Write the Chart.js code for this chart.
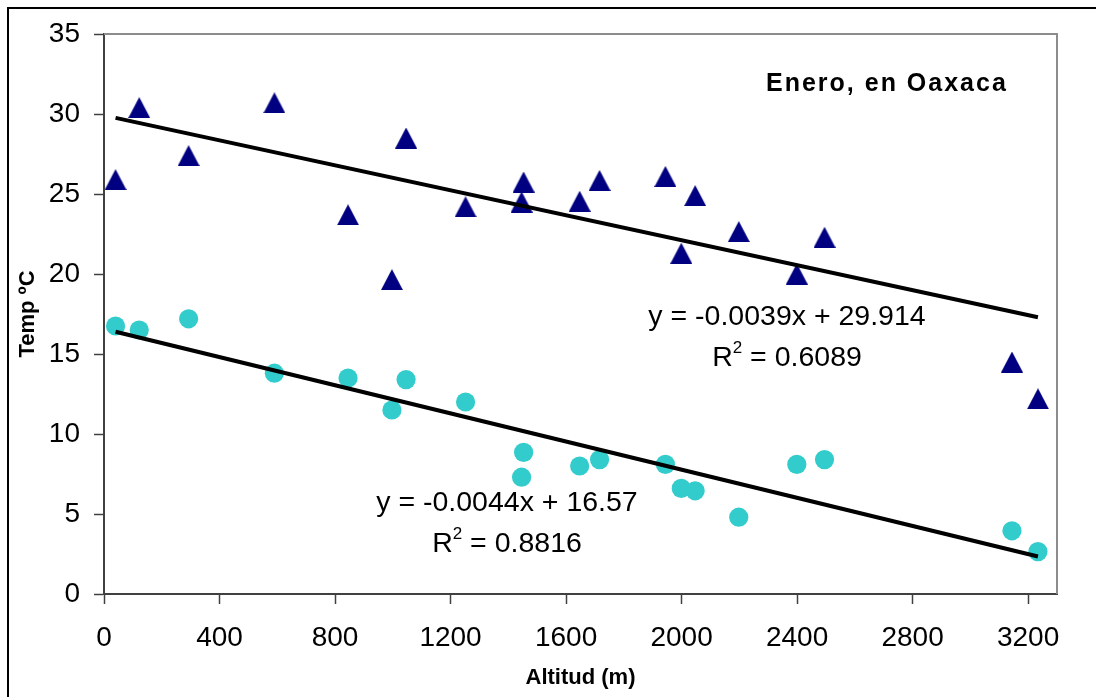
<!DOCTYPE html>
<html>
<head>
<meta charset="utf-8">
<title>Enero, en Oaxaca</title>
<script src="https://cdn.jsdelivr.net/npm/chart.js@4/dist/chart.umd.min.js"></script>
<style>
  html, body { margin: 0; padding: 0; background: #fff; }
  canvas { display: block; }
</style>
</head>
<body>
<canvas id="grafica" width="1096" height="697"></canvas>
<script>
// Altitud de cada estación (m) y temperatura de enero (ºC)
const altitud = [40, 122, 293, 590, 845, 997, 1046, 1252, 1453, 1446, 1647, 1716, 1944, 1999, 2047, 2198, 2399, 2495, 3144, 3234];
const tempAlta = [25.9, 30.4, 27.4, 30.7, 23.7, 19.65, 28.5, 24.2, 25.75, 24.5, 24.55, 25.85, 26.1, 21.3, 24.9, 22.65, 20.0, 22.3, 14.5, 12.2];
const tempBaja = [16.75, 16.5, 17.2, 13.8, 13.5, 11.5, 13.4, 12.0, 8.85, 7.3, 8.0, 8.4, 8.1, 6.6, 6.45, 4.8, 8.1, 8.4, 3.95, 2.65];

// Ajustes lineales: y = pendiente * x + intercepto
const pendiente = [-0.0039, -0.0044];
const intercepto = [29.914, 16.57];
const r2 = [0.6089, 0.8816];

// Marcas de los ejes
const ticksX = [0, 400, 800, 1200, 1600, 2000, 2400, 2800, 3200];
const ticksY = [0, 5, 10, 15, 20, 25, 30, 35];
const maxX = 3300;

const FUENTE = "'Liberation Sans', Arial, sans-serif";

function puntos(ys) {
  return altitud.map((x, i) => ({ x: x, y: ys[i] }));
}

function recta(k) {
  const x0 = Math.min(...altitud);
  const x1 = Math.max(...altitud);
  return [
    { x: x0, y: pendiente[k] * x0 + intercepto[k] },
    { x: x1, y: pendiente[k] * x1 + intercepto[k] }
  ];
}

function ecuacion(k) {
  return 'y = ' + pendiente[k] + 'x + ' + intercepto[k];
}

// triangle marker centred on its bounding box
const triangulo = document.createElement('canvas');
triangulo.width = 22;
triangulo.height = 21;
(function () {
  const c = triangulo.getContext('2d');
  c.fillStyle = '#000080';
  c.beginPath();
  c.moveTo(0, 21);
  c.lineTo(11, 0);
  c.lineTo(22, 21);
  c.closePath();
  c.fill();
})();

// marco, borde del área de trazado y textos dentro de la gráfica
const decoracion = {
  id: 'decoracion',
  beforeDatasetsDraw(chart) {
    const { ctx, chartArea: a } = chart;
    ctx.save();
    ctx.strokeStyle = '#000';
    ctx.lineWidth = 2;
    ctx.beginPath();
    ctx.moveTo(8, chart.height);
    ctx.lineTo(8, 8);
    ctx.lineTo(chart.width, 8);
    ctx.stroke();

    ctx.strokeStyle = '#8c8c8c';
    ctx.lineWidth = 2;
    ctx.beginPath();
    ctx.moveTo(a.left, a.top);
    ctx.lineTo(a.right, a.top);
    ctx.lineTo(a.right, a.bottom);
    ctx.stroke();
    ctx.restore();
  },
  afterDatasetsDraw(chart) {
    const { ctx } = chart;
    ctx.save();
    ctx.fillStyle = '#000';
    ctx.textBaseline = 'middle';

    ctx.font = 'bold 25px ' + FUENTE;
    ctx.letterSpacing = '2px';
    ctx.textAlign = 'left';
    ctx.fillText('Enero, en Oaxaca', 766, 84);
    ctx.letterSpacing = '0px';

    const etiquetas = [
      { k: 0, x: 787, y: 317 },
      { k: 1, x: 507, y: 503 }
    ];
    etiquetas.forEach(e => {
      ctx.font = '28.5px ' + FUENTE;
      ctx.textAlign = 'center';
      ctx.fillText(ecuacion(e.k), e.x, e.y);

      // R² con el exponente más pequeño
      const resto = ' = ' + r2[e.k];
      const wR = ctx.measureText('R').width;
      const wResto = ctx.measureText(resto).width;
      ctx.font = '17px ' + FUENTE;
      const wSup = ctx.measureText('2').width;
      const total = wR + wSup + wResto;
      let x = e.x - total / 2;
      const y = e.y + 41;
      ctx.textAlign = 'left';
      ctx.font = '28.5px ' + FUENTE;
      ctx.fillText('R', x, y);
      x += wR;
      ctx.font = '17px ' + FUENTE;
      ctx.fillText('2', x, y - 10);
      x += wSup;
      ctx.font = '28.5px ' + FUENTE;
      ctx.fillText(resto, x, y);
    });
    ctx.restore();
  }
};

new Chart(document.getElementById('grafica'), {
  type: 'scatter',
  data: {
    datasets: [
      {
        label: 'Recta 1',
        type: 'line',
        data: recta(0),
        borderColor: '#000',
        borderWidth: 4,
        pointRadius: 0,
        order: 0
      },
      {
        label: 'Recta 2',
        type: 'line',
        data: recta(1),
        borderColor: '#000',
        borderWidth: 4,
        pointRadius: 0,
        order: 0
      },
      {
        label: 'Temperatura alta',
        data: puntos(tempAlta),
        pointStyle: triangulo,
        backgroundColor: '#000080',
        order: 1
      },
      {
        label: 'Temperatura baja',
        data: puntos(tempBaja),
        pointStyle: 'circle',
        pointRadius: 9.6,
        borderWidth: 0,
        backgroundColor: '#33cccc',
        borderColor: '#33cccc',
        order: 1
      }
    ]
  },
  options: {
    responsive: false,
    animation: false,
    devicePixelRatio: 1,
    layout: { padding: { top: 34, right: 39, left: 0, bottom: 0 } },
    plugins: {
      legend: { display: false },
      title: { display: false },
      tooltip: { enabled: false }
    },
    scales: {
      x: {
        type: 'linear',
        min: ticksX[0],
        max: maxX,
        afterFit: s => { s.height = 103; },
        afterBuildTicks: s => { s.ticks = ticksX.map(v => ({ value: v })); },
        grid: { drawOnChartArea: false, drawTicks: true, tickLength: 10, tickColor: '#404040', tickWidth: 1.5 },
        border: { display: true, color: '#404040', width: 2 },
        ticks: {
          autoSkip: false,
          maxRotation: 0,
          padding: 17,
          color: '#000',
          callback: v => String(v),
          font: { family: FUENTE, size: 28 }
        },
        title: {
          display: true,
          text: 'Altitud (m)',
          color: '#000',
          padding: { top: 7, bottom: 6 },
          font: { family: FUENTE, size: 22, weight: 'bold' }
        }
      },
      y: {
        min: ticksY[0],
        max: ticksY[ticksY.length - 1],
        afterFit: s => { s.width = 104; },
        afterBuildTicks: s => { s.ticks = ticksY.map(v => ({ value: v })); },
        grid: { drawOnChartArea: false, drawTicks: true, tickLength: 10, tickColor: '#404040', tickWidth: 1.5 },
        border: { display: true, color: '#404040', width: 2 },
        ticks: {
          padding: 14,
          color: '#000',
          callback: v => String(v),
          font: { family: FUENTE, size: 28 }
        },
        title: {
          display: true,
          text: 'Temp ºC',
          color: '#000',
          padding: { top: 15, bottom: 0 },
          font: { family: FUENTE, size: 22, weight: 'bold' }
        }
      }
    }
  },
  plugins: [decoracion]
});
</script>
</body>
</html>
